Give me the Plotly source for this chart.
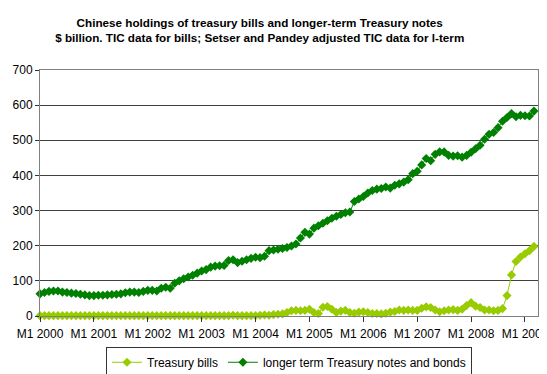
import plotly.graph_objects as go

tick_labels = ["M1 2000", "M1 2001", "M1 2002", "M1 2003", "M1 2004",
               "M1 2005", "M1 2006", "M1 2007", "M1 2008", "M1 2009"]

# monthly values, Jan 2000 .. Mar 2009 ($ billion)
treasury_bills = [
    1, 1, 1, 1, 1, 1, 1, 1, 1, 1, 1, 1,          # 2000
    1, 1, 1, 1, 1, 1, 1, 1, 1, 1, 1, 1,          # 2001
    1, 1, 1, 1, 1, 1, 1, 1, 1, 1, 1, 1,          # 2002
    1, 1, 1, 1, 1, 1, 1, 2, 1, 1, 1, 1,          # 2003
    1, 2, 3, 2, 4, 5, 6, 10, 15, 16, 15, 16,     # 2004
    19, 10, 7, 25, 27, 19, 10, 14, 16, 10, 8, 11,  # 2005
    12, 10, 7, 7, 6, 8, 11, 13, 17, 16, 17, 16,   # 2006
    16, 22, 26, 24, 17, 12, 15, 17, 18, 16, 19, 30,  # 2007
    38, 28, 24, 17, 17, 15, 16, 21, 58, 117, 155, 168,  # 2008
    177, 186, 198,                                 # 2009
]

longer_term = [
    63, 67, 70, 71, 71, 68, 67, 65, 64, 62, 60, 58,        # 2000
    58, 59, 59, 60, 61, 62, 63, 66, 68, 68, 67, 70,        # 2001
    73, 73, 71, 79, 82, 79, 93, 100, 106, 111, 116, 122,   # 2002
    128, 132, 139, 142, 143, 144, 158, 160, 152, 156, 160, 164,  # 2003
    167, 166, 170, 186, 188, 190, 192, 195, 199, 205, 222, 238,  # 2004
    233, 250, 257, 264, 271, 278, 284, 289, 294, 296, 326, 333,  # 2005
    340, 350, 357, 361, 363, 367, 364, 372, 376, 381, 388, 405,  # 2006
    412, 430, 448, 442, 460, 467, 467, 457, 455, 456, 452, 457,  # 2007
    466, 476, 486, 503, 517, 522, 536, 554, 565, 576, 567, 571,  # 2008
    570, 569, 583,                                              # 2009
]

months = list(range(len(longer_term)))
tick_positions = [12 * k for k in range(len(tick_labels))]

FONT = "Liberation Sans, Arial, sans-serif"

fig = go.Figure()
fig.add_trace(go.Scatter(
    x=months, y=treasury_bills, mode="lines+markers", name="Treasury bills",
    line=dict(color="#99CC00", width=1),
    marker=dict(symbol="diamond", size=7, color="#99CC00"),
    cliponaxis=False,
))
fig.add_trace(go.Scatter(
    x=months, y=longer_term, mode="lines+markers",
    name="longer term Treasury notes and bonds",
    line=dict(color="#008000", width=1),
    marker=dict(symbol="diamond", size=7, color="#008000"),
    cliponaxis=False,
))

# the page body adds an 8px offset, so the figure is sized to end at the window edge
fig.update_layout(
    width=539, height=366,
    margin=dict(l=32, r=9, t=62, b=58, autoexpand=False),
    paper_bgcolor="white", plot_bgcolor="white",
    font=dict(family=FONT, size=12, color="black"),
    title=dict(
        text="<b>Chinese holdings of treasury bills and longer-term Treasury notes</b><br>"
             "<b>$ billion. TIC data for bills; Setser and Pandey adjusted TIC data for l-term</b>",
        x=0.467, xanchor="center", xref="container",
        y=0.948, yanchor="top", yref="container",
        font=dict(family=FONT, size=11.7, color="black"),
    ),
    xaxis=dict(
        range=[0, 110.9], tickvals=tick_positions, ticktext=tick_labels,
        showgrid=False, zeroline=False, automargin=False,
        showline=True, linecolor="#808080", linewidth=1, mirror=True,
        ticks="outside", ticklen=5, tickcolor="#333333",
        tickfont=dict(size=12, color="black"), ticklabelstandoff=2,
        ticklabeloverflow="allow",
    ),
    yaxis=dict(
        range=[0, 700], dtick=100, automargin=False,
        showgrid=True, gridcolor="#404040", gridwidth=1, zeroline=False,
        showline=True, linecolor="#808080", linewidth=1, mirror=True,
        ticks="outside", ticklen=4, tickcolor="#333333",
        tickfont=dict(size=12, color="black"), ticklabelstandoff=0,
    ),
    legend=dict(
        orientation="h", x=0.5, xanchor="center", y=-0.125, yanchor="top",
        bordercolor="#333333", borderwidth=1, bgcolor="white",
        font=dict(size=12, color="black"), itemwidth=30,
        tracegroupgap=0,
    ),
    showlegend=True,
)

fig.write_html("out.html")
